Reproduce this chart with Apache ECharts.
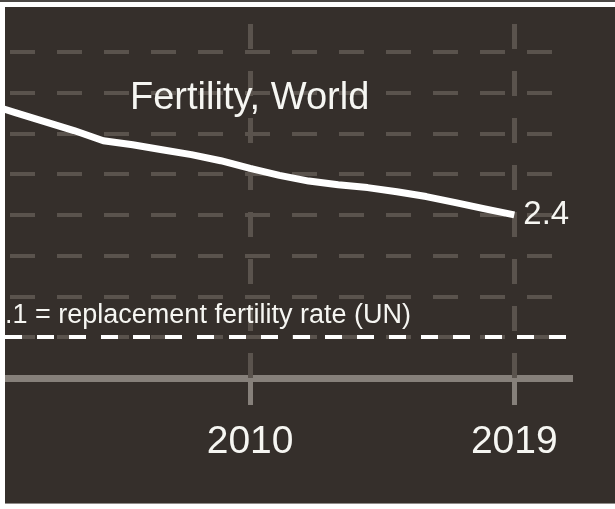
<!DOCTYPE html>
<html lang="en">
<head>
    <meta charset="UTF-8">
    <title>Fertility, World</title>
    <script src="https://cdn.jsdelivr.net/npm/echarts@6/dist/echarts.min.js"></script>
    <style>
        body {
            margin: 0;
            background-color: #ffffff;
        }
        /* thin dark rule above the white strip at the top */
        #topRule {
            position: absolute;
            left: 0;
            top: 0;
            width: 615px;
            height: 2px;
            background-color: #4b4845;
        }
        #main {
            position: absolute;
            left: 5px;
            top: 7px;
            width: 610px;
            height: 496px;
            border-bottom: 1px solid #8f8c89;
        }
    </style>
</head>
<body>
<div id="topRule"></div>
<div id="main"></div>
<script type="text/javascript">
    // data
    var years = [2001, 2002, 2003, 2004, 2005, 2006, 2007, 2008, 2009, 2010,
                 2011, 2012, 2013, 2014, 2015, 2016, 2017, 2018, 2019];
    var fertility = [2.673, 2.651, 2.629, 2.607, 2.582, 2.572, 2.560, 2.548, 2.533, 2.514,
                     2.497, 2.483, 2.474, 2.467, 2.457, 2.445, 2.430, 2.415, 2.400];
    var yearTicks = [2010, 2019];
    var replacementRate = 2.1;
    var chartTitle = 'Fertility, World';
    var replacementText = '2.1 = replacement fertility rate (UN)';

    var bg = '#352f2b';
    var gridGray = '#5a534d';
    var axisGray = '#86807a';
    var textColor = '#f6f6f2';
    var font = '"Liberation Sans", Arial, sans-serif';

    var lineData = [];
    for (var i = 0; i < years.length; i++) {
        lineData.push([years[i], fertility[i]]);
    }

    // 2.0 sits under the axis line, 2.91 is the top edge: keep those two invisible
    var splitColors = ['transparent', gridGray, gridGray, gridGray, gridGray,
                       gridGray, gridGray, gridGray, gridGray, 'transparent', 'transparent'];

    // vertical grid lines only at the labelled years
    var vLines = [];
    for (var j = 0; j < yearTicks.length; j++) {
        vLines.push({
            xAxis: yearTicks[j],
            lineStyle: { color: gridGray, width: 5, type: [25, 22], dashOffset: 0 }
        });
    }

    var myChart = echarts.init(document.getElementById('main'));
    var option = {
        backgroundColor: bg,
        animation: false,
        title: {
            text: chartTitle,
            left: 125,
            top: 73,
            padding: 0,
            textStyle: {
                color: textColor,
                fontFamily: font,
                fontWeight: 'normal',
                fontSize: 38
            }
        },
        grid: {
            left: 0,
            right: 42,
            top: 0,
            bottom: 125
        },
        xAxis: {
            type: 'value',
            min: 2001.65,
            max: 2021,
            axisLine: {
                show: true,
                lineStyle: { color: axisGray, width: 7, cap: 'butt' }
            },
            axisTick: {
                show: true,
                customValues: yearTicks,
                length: 27,
                lineStyle: { color: axisGray, width: 5 }
            },
            axisLabel: {
                customValues: yearTicks,
                margin: 45,
                color: textColor,
                fontFamily: font,
                fontSize: 39,
                formatter: function (v) { return String(v); }
            },
            splitLine: { show: false }
        },
        yAxis: {
            type: 'value',
            min: 2.0,
            max: 2.91,
            interval: 0.1,
            axisLine: { show: false },
            axisTick: { show: false },
            axisLabel: { show: false },
            splitLine: {
                show: true,
                lineStyle: { color: splitColors, width: 4, type: [25, 22], dashOffset: -5 }
            }
        },
        graphic: [
            {
                type: 'text',
                left: -15,
                top: 295,
                style: {
                    text: replacementText,
                    fill: textColor,
                    font: '27px ' + font
                },
                z: 10
            }
        ],
        series: [
            {
                type: 'line',
                data: lineData,
                showSymbol: false,
                lineStyle: { color: '#ffffff', width: 7 },
                endLabel: {
                    show: true,
                    distance: 9,
                    color: textColor,
                    fontFamily: font,
                    fontSize: 33,
                    formatter: function (p) { return p.value[1].toFixed(1); }
                },
                markLine: {
                    silent: true,
                    symbol: 'none',
                    label: { show: false },
                    lineStyle: { color: '#ffffff', width: 4, type: [17, 15] },
                    data: [{ yAxis: replacementRate }].concat(vLines)
                },
                z: 5
            }
        ]
    };
    myChart.setOption(option);
</script>
</body>
</html>
